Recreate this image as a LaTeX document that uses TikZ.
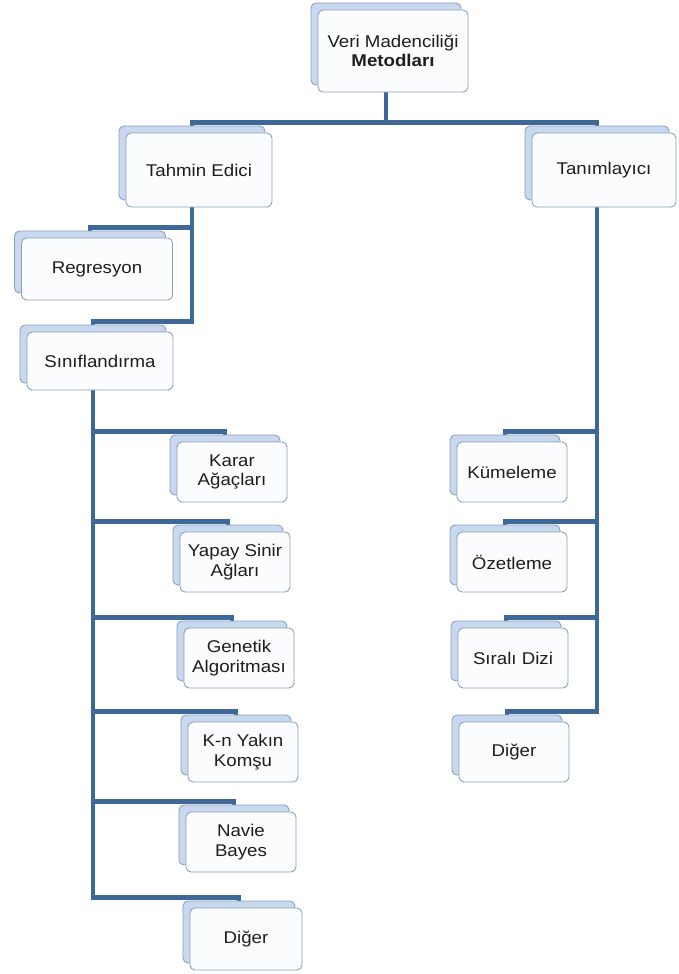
\documentclass[tikz,border=0pt]{standalone}
\usepackage{fontspec}
\setmainfont{Liberation Sans}[FakeStretch=1.1]
\usetikzlibrary{shadows,backgrounds}
\definecolor{linkblue}{RGB}{62,104,152}
\definecolor{cardedge}{RGB}{140,160,188}
\definecolor{cardback}{RGB}{200,216,238}
\definecolor{cardfront}{RGB}{251,252,254}
\definecolor{cardtext}{RGB}{30,30,30}
\tikzstyle{card} = [rectangle, rounded corners=5pt, minimum width=110pt, minimum height=60pt, text centered, align=center, draw=cardedge, line width=0.9pt, fill=cardfront, text=cardtext, font=\fontsize{17}{19.5}\selectfont, inner sep=2pt, copy shadow={shadow xshift=-7pt, shadow yshift=7pt, fill=cardback, draw=cardedge, line width=0.9pt}]
\tikzstyle{link} = [line width=4.5pt, draw=linkblue]

\begin{document}
\begin{tikzpicture}[x=1pt, y=-1pt]
	\useasboundingbox (0,0) rectangle (678,974);
	\node (root) [card, minimum width=150pt, minimum height=82pt] at (393,51) {Veri Madenciliği\\\textbf{Metodları}};
	\node (tahmin) [card, minimum width=146pt, minimum height=74pt] at (199,170) {Tahmin Edici};
	\node (tanim) [card, minimum width=144pt, minimum height=74pt] at (604,170) {Tanımlayıcı};
	\node (regr) [card, minimum width=151pt, minimum height=62pt] at (97,269) {Regresyon};
	\node (sinif) [card, minimum width=146pt, minimum height=58pt] at (100,361) {Sınıflandırma};
	\node (karar) [card] at (232,472) {Karar\\Ağaçları};
	\node (yapay) [card] at (235,562) {Yapay Sinir\\Ağları};
	\node (genetik) [card] at (239,658) {Genetik\\Algoritması};
	\node (kn) [card] at (243,752) {K-n Yakın\\Komşu};
	\node (navie) [card] at (241,842) {Navie\\Bayes};
	\node (diger1) [card, minimum width=112pt, minimum height=62pt] at (246,939) {Diğer};
	\node (kume) [card] at (512,472) {Kümeleme};
	\node (ozet) [card] at (512,562) {Özetleme};
	\node (sirali) [card] at (513,658) {Sıralı Dizi};
	\node (diger2) [card] at (514,752) {Diğer};
	%lines
	\begin{scope}[on background layer]
	\draw [link] ([xshift=-7pt]root.south) |- ([xshift=-7pt,yshift=10pt]tahmin.north) -- ([xshift=-7pt]tahmin.north);
	\draw [link] ([xshift=-7pt]root.south) |- ([xshift=-7pt,yshift=10pt]tanim.north) -- ([xshift=-7pt]tanim.north);
	\draw [link] ([xshift=-7pt]tahmin.south) |- ([xshift=-7pt,yshift=10pt]regr.north) -- ([xshift=-7pt]regr.north);
	\draw [link] ([xshift=-7pt]tahmin.south) |- ([xshift=-7pt,yshift=10pt]sinif.north) -- ([xshift=-7pt]sinif.north);
	\draw [link] ([xshift=-7pt]sinif.south) |- ([xshift=-7pt,yshift=10pt]karar.north) -- ([xshift=-7pt]karar.north);
	\draw [link] ([xshift=-7pt]sinif.south) |- ([xshift=-7pt,yshift=10pt]yapay.north) -- ([xshift=-7pt]yapay.north);
	\draw [link] ([xshift=-7pt]sinif.south) |- ([xshift=-7pt,yshift=10pt]genetik.north) -- ([xshift=-7pt]genetik.north);
	\draw [link] ([xshift=-7pt]sinif.south) |- ([xshift=-7pt,yshift=10pt]kn.north) -- ([xshift=-7pt]kn.north);
	\draw [link] ([xshift=-7pt]sinif.south) |- ([xshift=-7pt,yshift=10pt]navie.north) -- ([xshift=-7pt]navie.north);
	\draw [link] ([xshift=-7pt]sinif.south) |- ([xshift=-7pt,yshift=10pt]diger1.north) -- ([xshift=-7pt]diger1.north);
	\draw [link] ([xshift=-7pt]tanim.south) |- ([xshift=-7pt,yshift=10pt]kume.north) -- ([xshift=-7pt]kume.north);
	\draw [link] ([xshift=-7pt]tanim.south) |- ([xshift=-7pt,yshift=10pt]ozet.north) -- ([xshift=-7pt]ozet.north);
	\draw [link] ([xshift=-7pt]tanim.south) |- ([xshift=-7pt,yshift=10pt]sirali.north) -- ([xshift=-7pt]sirali.north);
	\draw [link] ([xshift=-7pt]tanim.south) |- ([xshift=-7pt,yshift=10pt]diger2.north) -- ([xshift=-7pt]diger2.north);
	\end{scope}
\end{tikzpicture}
\end{document}
